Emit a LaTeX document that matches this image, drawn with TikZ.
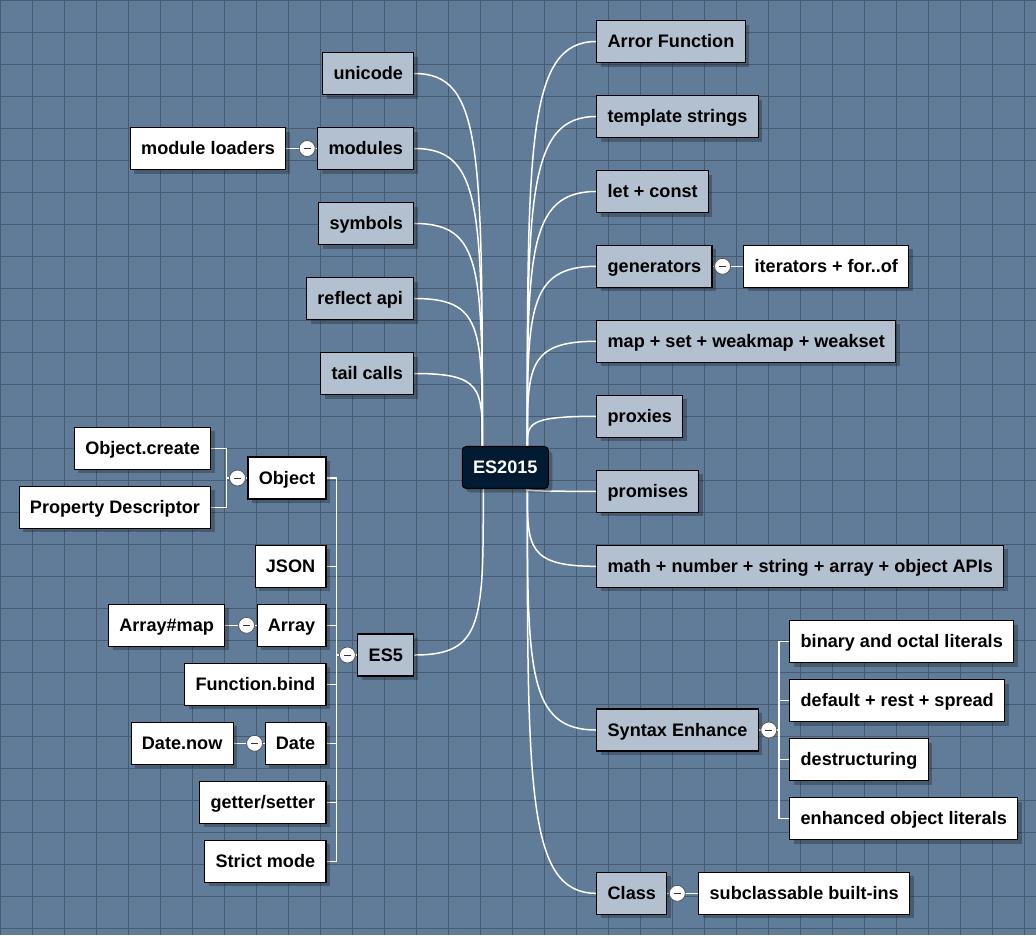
\documentclass[tikz,border=0pt]{standalone}
\usepackage{fontspec}
\setmainfont{Liberation Sans}
\usetikzlibrary{calc,shadows}
\definecolor{bgblue}{RGB}{97,124,152}
\definecolor{gridgray}{RGB}{72,90,110}
\definecolor{topicfill}{RGB}{178,192,207}
\definecolor{rootfill}{RGB}{2,27,51}
\definecolor{knobline}{RGB}{85,85,85}
\pgfdeclarelayer{back}
\pgfsetlayers{back,main}
\tikzstyle{topic} = [draw=black, line width=1.1pt, fill=topicfill, minimum height=42pt, inner xsep=10.8pt, inner ysep=0pt, text height=16pt, text depth=3.3pt, font=\fontsize{18.1pt}{20pt}\selectfont\bfseries, drop shadow={shadow xshift=4pt, shadow yshift=-4pt, opacity=.25, fill=black}]
\tikzstyle{leaf} = [topic, fill=white]
\tikzstyle{central} = [topic, fill=rootfill, text=white, rounded corners=4pt]
\tikzstyle{knob} = [circle, draw=knobline, fill=white, line width=.8pt, minimum size=16pt, inner sep=0pt, path picture={\draw[black!80, line width=1pt] ([xshift=-3.5pt]path picture bounding box.center) -- ([xshift=3.5pt]path picture bounding box.center);}]
\tikzstyle{link} = [white, line width=1.5pt]

\begin{document}
\begin{tikzpicture}[x=1pt,y=-1pt]
\useasboundingbox (0,0) rectangle (1036,935);
\begin{pgfonlayer}{back}
\fill[bgblue] (0,0) rectangle (1036,935);
\foreach \i in {0,32,...,1024} \draw[gridgray, line width=1.1pt] (\i+.5,0) -- (\i+.5,935);
\foreach \j in {0,32,...,928} \draw[gridgray, line width=1.1pt] (0,\j+.5) -- (1036,\j+.5);
\end{pgfonlayer}

\node[central] (root) at (505.3,467.5) {ES2015};

% right side
\node[topic, anchor=west] (arrow) at (596.3,41.5) {Arror Function};
\node[topic, anchor=west] (tmpl) at (596.3,116.5) {template strings};
\node[topic, anchor=west] (letconst) at (596.3,191.5) {let + const};
\node[topic, anchor=west] (gen) at (596.3,266.3) {generators};
\node[leaf, anchor=west] (iters) at (743.3,266.3) {iterators + for..of};
\node[topic, anchor=west] (maps) at (596.3,341.3) {map + set + weakmap + weakset};
\node[topic, anchor=west] (proxies) at (596.3,416.3) {proxies};
\node[topic, anchor=west] (promises) at (596.3,491.3) {promises};
\node[topic, anchor=west] (apis) at (596.3,566.3) {math + number + string + array + object APIs};
\node[topic, anchor=west] (syntax) at (596.3,730) {Syntax Enhance};
\node[leaf, anchor=west] (binary) at (789.3,641.5) {binary and octal literals};
\node[leaf, anchor=west] (defaults) at (789.3,700.5) {default + rest + spread};
\node[leaf, anchor=west] (destruct) at (789.3,759.5) {destructuring};
\node[leaf, anchor=west] (enhanced) at (789.3,818.5) {enhanced object literals};
\node[topic, anchor=west] (class) at (596.3,893.3) {Class};
\node[leaf, anchor=west] (subclass) at (698.3,893.3) {subclassable built-ins};

% left side
\node[topic, anchor=east] (unicode) at (414.3,73.5) {unicode};
\node[topic, anchor=east] (modules) at (414.3,148.5) {modules};
\node[leaf, anchor=east] (loaders) at (286.3,148.5) {module loaders};
\node[topic, anchor=east] (symbols) at (414.3,223.5) {symbols};
\node[topic, anchor=east] (reflect) at (414.3,298.5) {reflect api};
\node[topic, anchor=east] (tail) at (414.3,373.5) {tail calls};
\node[topic, anchor=east] (es5) at (414.3,655) {ES5};
\node[leaf, anchor=east] (object) at (326.5,478) {Object};
\node[leaf, anchor=east] (objcreate) at (211.3,448.3) {Object.create};
\node[leaf, anchor=east] (propdesc) at (211.3,507.3) {Property Descriptor};
\node[leaf, anchor=east] (json) at (326.5,566.3) {JSON};
\node[leaf, anchor=east] (array) at (326.5,625.3) {Array};
\node[leaf, anchor=east] (arraymap) at (225.3,625.3) {Array\#map};
\node[leaf, anchor=east] (funcbind) at (326.5,684.3) {Function.bind};
\node[leaf, anchor=east] (date) at (326.5,743.3) {Date};
\node[leaf, anchor=east] (datenow) at (233.7,743.3) {Date.now};
\node[leaf, anchor=east] (getset) at (326.5,802.3) {getter/setter};
\node[leaf, anchor=east] (strict) at (326.5,861.3) {Strict mode};

% collapse knobs
\node[knob] (k-modules) at ([xshift=-10pt]modules.west) {};
\node[knob] (k-es5) at ([xshift=-10pt]es5.west) {};
\node[knob] (k-object) at ([xshift=-10pt]object.west) {};
\node[knob] (k-array) at ([xshift=-10pt]array.west) {};
\node[knob] (k-date) at ([xshift=-10pt]date.west) {};
\node[knob] (k-gen) at ([xshift=10pt]gen.east) {};
\node[knob] (k-syntax) at ([xshift=10pt]syntax.east) {};
\node[knob] (k-class) at ([xshift=10pt]class.east) {};

\begin{pgfonlayer}{back}
\coordinate (upL) at ([xshift=-23pt]root.north);
\coordinate (upR) at ([xshift=22pt]root.north);
\coordinate (dnL) at ([xshift=-22pt]root.south);
\coordinate (dnR) at ([xshift=22pt]root.south);
\foreach \n in {arrow,tmpl,letconst,gen,maps,proxies}
  \draw[link] (upR) .. controls ($(upR)!.75!(upR |- \n.west)$) and (upR |- \n.west) .. (\n.west);
\foreach \n in {promises,apis,syntax,class}
  \draw[link] (dnR) .. controls ($(dnR)!.75!(dnR |- \n.west)$) and (dnR |- \n.west) .. (\n.west);
\foreach \n in {unicode,modules,symbols,reflect,tail}
  \draw[link] (upL) .. controls ($(upL)!.8!(upL |- \n.east)$) and (upL |- \n.east) .. (\n.east);
\draw[link] (dnL) .. controls ($(dnL)!.8!(dnL |- es5.east)$) and (dnL |- es5.east) .. (es5.east);

% brackets
\coordinate (es5j) at ([xshift=-21pt]es5.west);
\foreach \n in {object,json,array,funcbind,date,getset,strict}
  \draw[link] (\n.east) -| (es5j);
\draw[link] (es5j) -- (es5.west);
\coordinate (objj) at ([xshift=-21pt]object.west);
\foreach \n in {objcreate,propdesc}
  \draw[link] (\n.east) -| (objj);
\draw[link] (objj) -- (object.west);
\coordinate (synj) at ([xshift=20pt]syntax.east);
\foreach \n in {binary,defaults,destruct,enhanced}
  \draw[link] (\n.west) -| (synj);
\draw[link] (synj) -- (syntax.east);

% single children
\draw[link] (loaders.east) -- (modules.west);
\draw[link] (gen.east) -- (iters.west);
\draw[link] (class.east) -- (subclass.west);
\draw[link] (arraymap.east) -- (array.west);
\draw[link] (datenow.east) -- (date.west);
\end{pgfonlayer}
\end{tikzpicture}
\end{document}
